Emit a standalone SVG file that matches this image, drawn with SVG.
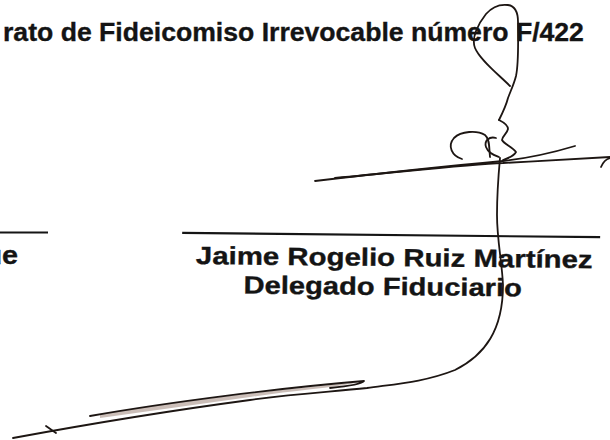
<svg xmlns="http://www.w3.org/2000/svg" width="610" height="440" viewBox="0 0 610 440">
<style>
.t{font-family:"Liberation Sans",Arial,sans-serif;font-weight:bold;fill:#141414;stroke:#141414;stroke-width:0.35}
.rule{stroke:#151515;stroke-width:2.2;fill:none}
.ink{stroke:#1d1613;stroke-width:1.8;fill:none;stroke-linecap:round;stroke-linejoin:round}
</style>
<rect width="610" height="440" fill="#ffffff"/>
<g id="heading">
<text class="t" transform="translate(3 41) scale(1.03 1)" x="0" y="0" font-size="26" textLength="564" lengthAdjust="spacingAndGlyphs">rato de Fideicomiso Irrevocable número F/422</text>
</g>
<g id="left-signatory">
<line class="rule" x1="0" y1="232.5" x2="48" y2="232.5"/>
<text class="t" transform="translate(18 264) scale(1.15 1)" x="0" y="0" font-size="25" text-anchor="end">ue</text>
</g>
<g id="right-signatory" transform="rotate(0.6 390 250)">
<line class="rule" x1="182" y1="235" x2="600" y2="235"/>
<text class="t" transform="translate(196 266) scale(1.15 1)" x="0" y="0" font-size="25" textLength="345" lengthAdjust="spacingAndGlyphs">Jaime Rogelio Ruiz Martínez</text>
<text class="t" transform="translate(244 295) scale(1.15 1)" x="0" y="0" font-size="25" textLength="242" lengthAdjust="spacingAndGlyphs">Delegado Fiduciario</text>
</g>
<g id="signature">
<path class="ink" d="M510,86 C498,74 480,60 475,48 C471,38 478,24 486,14 C492,7 500,4 508,5 C515,6 518,12 518,22 C518,40 519,62 516,76 C514,84 511,90 508,98 C506,106 503,112 499,120"/>
<path class="ink" d="M499,120 C503,122 508,125 508,129 C507,134 502,136 502,140 C504,144 512,147 516,152 C514,156 509,158 503,160"/>
<path class="ink" d="M462,159 C452,156 447,146 454,138 C461,131 477,130 485,135 C490,139 489,148 490,157"/>
<path class="ink" d="M496,138 C489,136 484,141 486,147 C488,153 494,155 499,157"/>
<path class="ink" d="M315,181 C400,171 470,164 503,161 C530,158 555,152 575,146"/>
<path class="ink" d="M335,178 C420,170 470,164 503,163 C540,161 580,159 610,157"/>
<path class="ink" d="M601,167 C603,162 606,159 610,158"/>
<path class="ink" d="M500,158 C498,180 497,200 497,215 C497,240 502,262 503,285 C503,330 485,355 455,370 C425,382 395,384 367,388 C330,392 300,393 250,400 C190,408 100,422 13,438"/>
<path d="M100,414 C170,403 270,390 362,382 C330,388 290,391 250,397 C200,404 150,411 100,418 Z" fill="#8c6f62" fill-opacity="0.45"/>
<path class="ink" d="M90,416 C170,402 280,388 364,381 C362,384 350,386 330,388"/>
<path class="ink" d="M46,426 L56,433"/>
</g>
</svg>
